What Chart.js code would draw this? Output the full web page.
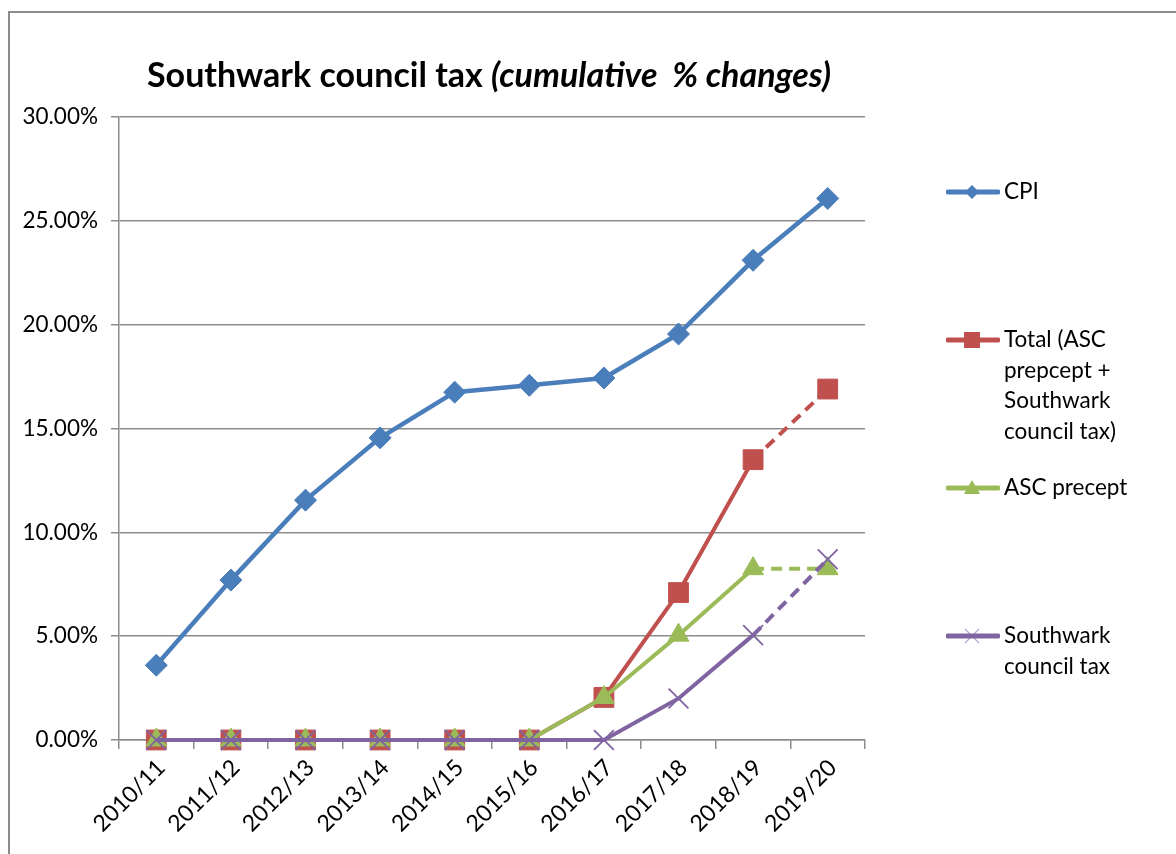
<!DOCTYPE html>
<html>
<head>
<meta charset="utf-8">
<script src="https://cdn.jsdelivr.net/npm/chart.js@4"></script>
<style>
  html, body { margin: 0; padding: 0; background: #fff; }
  body { width: 1176px; height: 854px; position: relative; overflow: hidden; font-family: Lato, "Noto Sans", sans-serif; }
  #frame { position: absolute; left: 8px; top: 11px; width: 1200px; height: 900px; border: 2px solid #8c8c8c; }
  #wrap { position: absolute; left: 0; top: 0; width: 1176px; height: 854px; }
  #title { position: absolute; left: 147px; top: 53px; font-size: 34px; font-weight: bold; color: #000; white-space: nowrap; }
  #title i { font-style: italic; }
  .leg { position: absolute; left: 946px; display: flex; align-items: flex-start; font-size: 22.5px; line-height: 30.5px; color: #000; }
  .leg svg { flex: none; }
  .leg span { margin-left: 4px; }
</style>
</head>
<body>
<div id="frame"></div>
<div id="wrap"><canvas id="chart" width="1176" height="854"></canvas></div>
<div id="title">Southwark council tax <i>(cumulative&nbsp; % changes)</i></div>
<div id="legend"></div>
<script>
// ============================
// Data
// ============================
const years = ["2010/11", "2011/12", "2012/13", "2013/14", "2014/15", "2015/16", "2016/17", "2017/18", "2018/19", "2019/20"];
const cpi = [3.6, 7.7, 11.55, 14.55, 16.75, 17.08, 17.43, 19.55, 23.1, 26.08];
const total = [0, 0, 0, 0, 0, 0, 2.05, 7.1, 13.5, 16.9];
const ascPrecept = [0, 0, 0, 0, 0, 0, 2.05, 5.05, 8.25, 8.25];
const southwark = [0, 0, 0, 0, 0, 0, 0, 2.0, 5.05, 8.7];
const yTicks = [0, 5, 10, 15, 20, 25, 30];

const seriesNames = ["CPI", "Total (ASC\nprepcept +\nSouthwark\ncouncil tax)", "ASC precept", "Southwark\ncouncil tax"];
const legendTops = [176, 324, 472, 620];

const BLUE = "#4a7ebb";
const RED = "#c0504d";
const GREEN = "#9bbb59";
const PURPLE = "#8064a2";

// last segment (2018/19 -> 2019/20) is dashed
const dashLast = { borderDash: (ctx) => (ctx.p0DataIndex === 8 ? [11, 7] : undefined) };

function makeSet(label, data, color, style, radius, order, extra) {
  return Object.assign({
    label,
    data,
    borderColor: color,
    backgroundColor: color,
    borderWidth: 4.5,
    pointStyle: style,
    pointRadius: radius,
    pointHoverRadius: radius,
    pointBorderWidth: 1,
    tension: 0,
    clip: false,
    order,
  }, extra || {});
}

const datasets = [
  makeSet(seriesNames[0], cpi, BLUE, "rectRot", 11, 4),
  makeSet(seriesNames[1], total, RED, "rect", 14, 3, { borderWidth: 4, segment: dashLast }),
  makeSet(seriesNames[2], ascPrecept, GREEN, "triangle", 12, 2, { borderWidth: 4, segment: dashLast }),
  makeSet(seriesNames[3], southwark, PURPLE, "crossRot", 14, 1, { borderWidth: 4, pointBorderWidth: 1.8, segment: dashLast }),
];

// ============================
// Chart
// ============================
const ctx = document.getElementById("chart").getContext("2d");
const chart = new Chart(ctx, {
  type: "line",
  data: { labels: years, datasets },
  options: {
    responsive: false,
    animation: false,
    events: [],
    layout: { padding: { left: 0, top: 117, right: 311, bottom: 0 } },
    plugins: { legend: { display: false }, title: { display: false }, tooltip: { enabled: false } },
    scales: {
      x: {
        offset: true,
        grid: { display: true, drawOnChartArea: false, offset: true, tickLength: 9, color: "#8c8c8c", lineWidth: 1.5 },
        border: { color: "#8c8c8c", width: 1.5 },
        ticks: { color: "#000", font: { family: "Lato", size: 23 }, minRotation: 45, maxRotation: 45, padding: 5, labelOffset: 5, autoSkip: false },
        afterFit: (scale) => { scale.height = 114; },
      },
      y: {
        min: 0,
        max: 30,
        afterBuildTicks: (scale) => { scale.ticks = yTicks.map((v) => ({ value: v })); },
        grid: { color: "#8c8c8c", lineWidth: 1.5, tickLength: 8 },
        border: { color: "#8c8c8c", width: 1.5 },
        ticks: { color: "#000", font: { family: "Lato", size: 22.5 }, padding: 13, callback: (v) => v.toFixed(2) + "%" },
        afterFit: (scale) => { scale.width = 119; },
      },
    },
  },
});

// ============================
// Legend (spread out like the original)
// ============================
function markerSvg(ds) {
  const c = ds.borderColor;
  let mark = "";
  if (ds.pointStyle === "rectRot") mark = `<polygon points="26,4 33,11 26,18 19,11" fill="${c}"/>`;
  else if (ds.pointStyle === "rect") mark = `<rect x="18" y="3" width="16" height="16" fill="${c}"/>`;
  else if (ds.pointStyle === "triangle") mark = `<polygon points="26,3 34,17 18,17" fill="${c}"/>`;
  else mark = `<path d="M19,4 L33,18 M33,4 L19,18" stroke="${c}" stroke-width="1.2" opacity="0.6"/>`;
  return `<svg width="54" height="22" style="margin-top:5px"><line x1="2" y1="11" x2="52" y2="11" stroke="${c}" stroke-width="5" stroke-linecap="round"/>${mark}</svg>`;
}

const legend = document.getElementById("legend");
chart.data.datasets.forEach((ds, i) => {
  const item = document.createElement("div");
  item.className = "leg";
  item.style.top = legendTops[i] + "px";
  item.innerHTML = markerSvg(ds) + `<span>${ds.label.split("\n").join("<br>")}</span>`;
  legend.appendChild(item);
});
</script>
</body>
</html>
